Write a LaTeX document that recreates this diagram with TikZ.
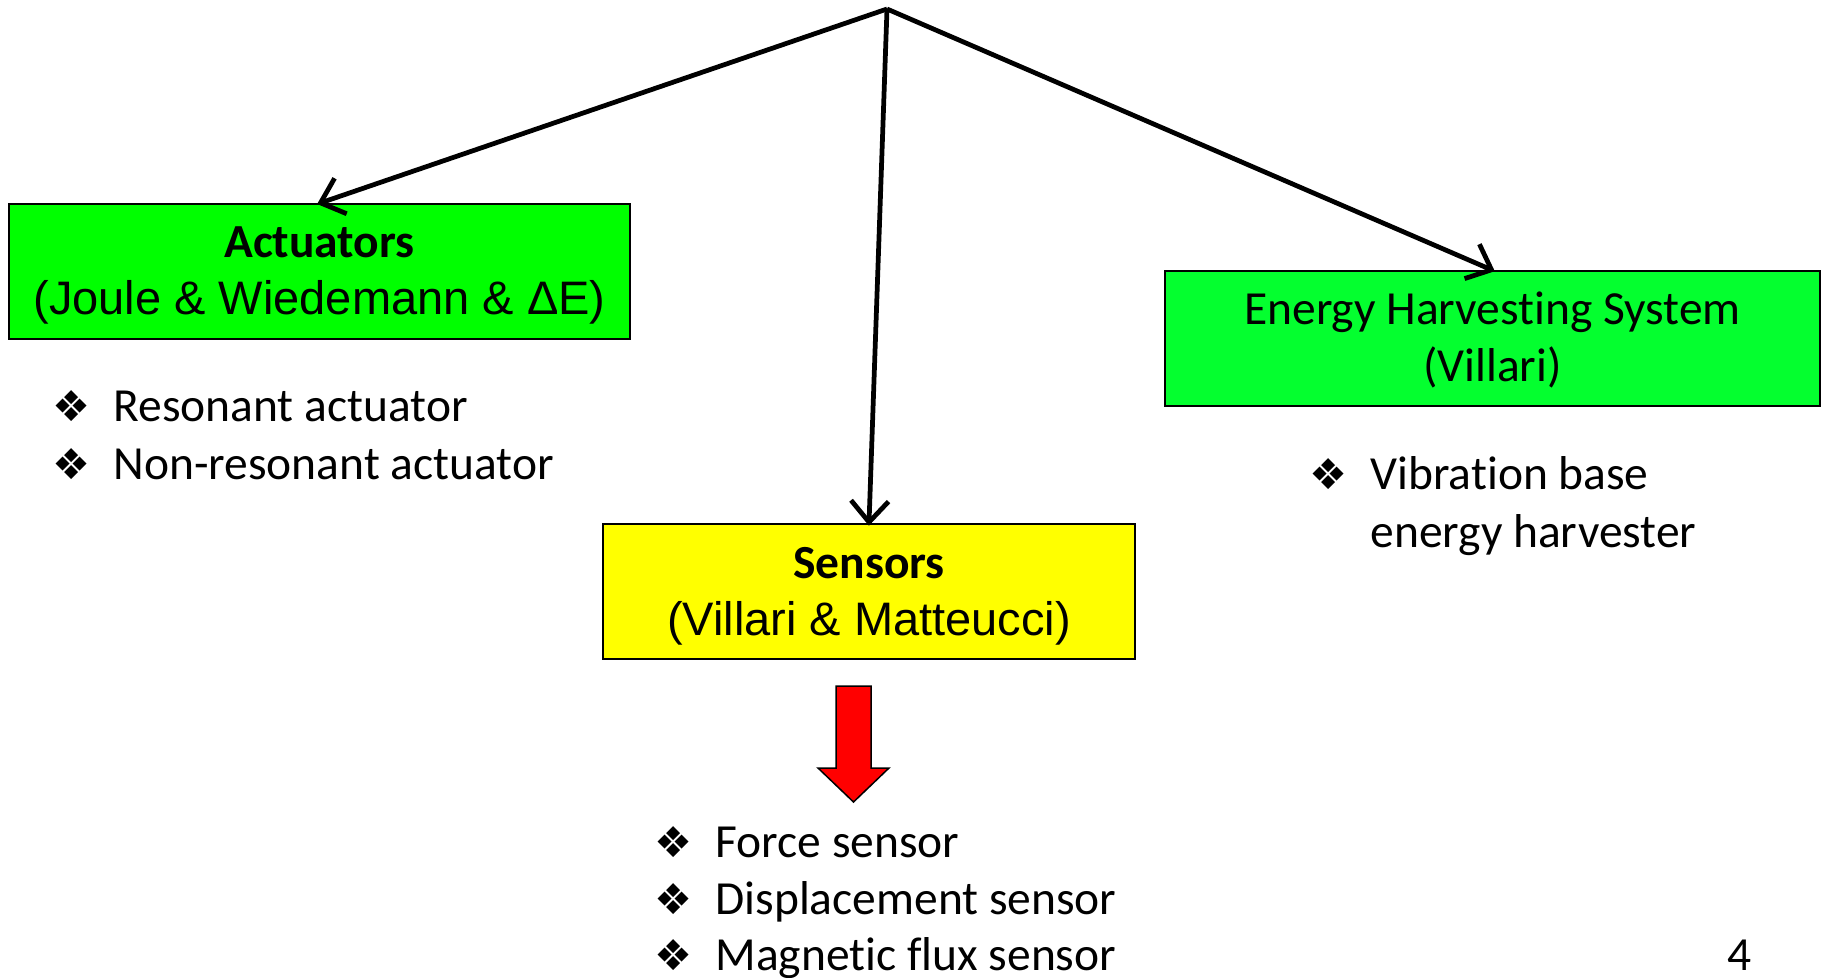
\documentclass[tikz,border=0pt]{standalone}
\usepackage{fontspec}
\setmainfont{Carlito}[RawFeature={-liga;-clig;-calt;-dlig}]
\newfontfamily\arialf{Liberation Sans}
\newfontfamily\djv{DejaVu Sans}
\usetikzlibrary{arrows.meta}
\newcommand\nolig{\kern0pt}
\definecolor{actgreen}{RGB}{0,255,0}
\definecolor{ehgreen}{RGB}{4,255,47}
\definecolor{senyellow}{RGB}{255,255,0}
\begin{document}
\begin{tikzpicture}[x=0.4pt,y=-0.4pt,
  box/.style={draw=black, line width=0.6pt, inner sep=0pt, minimum height=54pt},
  conn/.style={line width=1.9pt, -{Straight Barb[length=8.5pt,width=15pt,line width=1.9pt]}, shorten >=-1pt},
  hd/.style={anchor=base, inner sep=0pt, font=\fontsize{19}{22.8}\selectfont},
  ar/.style={anchor=base, inner sep=0pt, font=\arialf\fontsize{18.8}{22.6}\selectfont},
  bul/.style={anchor=base, inner sep=0pt, font=\djv\fontsize{17}{17}\selectfont},
  itm/.style={anchor=base west, inner sep=0pt, font=\fontsize{19}{22.8}\selectfont}]
\useasboundingbox (0,0) rectangle (1825,978);
% boxes
\node[box, fill=actgreen, minimum width=248.4pt] (act) at (319.5,271.5) {};
\node[box, fill=ehgreen, minimum width=262pt] (eh) at (1492.5,338.5) {};
\node[box, fill=senyellow, minimum width=212.8pt] (sen) at (869,591.5) {};
% box texts
\node[hd] (acth) at (319.5,258) {\bfseries Actuators};
\node[ar] (actt) at (319.5,315) {(Joule \& Wiedemann \& ΔE)};
\node[hd] (ehh) at (1492.5,325) {Energy Harvest\nolig ing System};
\node[hd] (eht) at (1492.5,382) {(Villari)};
\node[hd] (senh) at (869,578) {\bfseries Sensors};
\node[ar] (sent) at (869,635) {(Villari \& Matteucci)};
% connectors
\coordinate (apex) at (887,9);
\draw[conn] (apex) -- (act.north);
\draw[conn] (apex) -- (eh.north);
\draw[conn] (apex) -- (sen.north);
% red block arrow
\draw[fill=red, line width=0.6pt, line join=miter]
  (836,686) -- (871,686) -- (871,768) -- (889,768) -- (853.5,802) -- (818,768) -- (836,768) -- cycle;
% actuator items
\node[bul] (b1) at (72,422) {❖};
\node[itm] (i1) at (113,422) {Resonant actuator};
\node[bul] (b2) at (72,479) {❖};
\node[itm] (i2) at (113,479) {Non-resonant actuator};
% energy items
\node[bul] (b3) at (1329,490) {❖};
\node[itm] (i3) at (1370,490) {Vibrat\nolig ion base};
\node[itm] (i3b) at (1370,547) {energy harvester};
% sensor items
\node[bul] (b4) at (674,857) {❖};
\node[itm] (i4) at (715,857) {Force sensor};
\node[bul] (b5) at (674,914) {❖};
\node[itm] (i5) at (715,914) {Displacement sensor};
\node[bul] (b6) at (674,970) {❖};
\node[itm] (i6) at (715,970) {Magnet\nolig ic flux sensor};
% page number
\node[hd] (pg) at (1740,970) {4};
\end{tikzpicture}
\end{document}
